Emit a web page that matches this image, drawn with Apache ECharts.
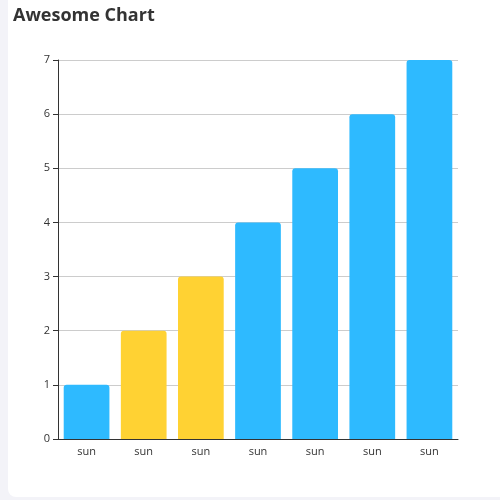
<!DOCTYPE html>
<html>
<head>
<meta charset="utf-8">
<script src="https://cdn.jsdelivr.net/npm/echarts@6/dist/echarts.min.js"></script>
<style>
  html, body { margin: 0; padding: 0; background: #f3f3f8; overflow: hidden; }
  #card { position: absolute; left: 8px; top: -12px; width: 520px; height: 509px; background: #fff; border-radius: 8px; }
  #chart { position: absolute; left: 0; top: 0; width: 500px; height: 500px; }
</style>
</head>
<body>
<div id="card"></div>
<div id="chart"></div>
<script>
const categories = ["sun", "sun", "sun", "sun", "sun", "sun", "sun"];
const values = [1, 2, 3, 4, 5, 6, 7];
const highlighted = [1, 2]; // yellow bars

const chart = echarts.init(document.getElementById("chart"));

chart.setOption({
  title: {
    text: "Awesome Chart",
    left: 8,
    top: 2,
    textStyle: { fontFamily: "Open Sans", fontWeight: "bold", fontSize: 18, color: "#333" }
  },
  grid: { left: 58, right: 42, top: 60, bottom: 61 },
  xAxis: {
    type: "category",
    data: categories,
    axisLine: { lineStyle: { color: "#333" } },
    axisTick: { lineStyle: { color: "#333" } },
    axisLabel: { color: "#333", fontSize: 11, fontFamily: "Open Sans", margin: 7 }
  },
  yAxis: {
    type: "value",
    min: 0,
    max: 7,
    interval: 1,
    axisLine: { show: true, lineStyle: { color: "#333" } },
    axisTick: { show: true, lineStyle: { color: "#333" } },
    axisLabel: { color: "#333", fontSize: 11, fontFamily: "Open Sans", margin: 8 },
    splitLine: { lineStyle: { color: "#ccc" } }
  },
  series: [
    {
      type: "bar",
      barCategoryGap: "20%",
      data: values.map((v, i) => ({
        value: v,
        itemStyle: { color: highlighted.includes(i) ? "#FFD233" : "#2EBAFF" }
      })),
      itemStyle: { borderRadius: [3, 3, 0, 0] }
    }
  ]
});
</script>
</body>
</html>
